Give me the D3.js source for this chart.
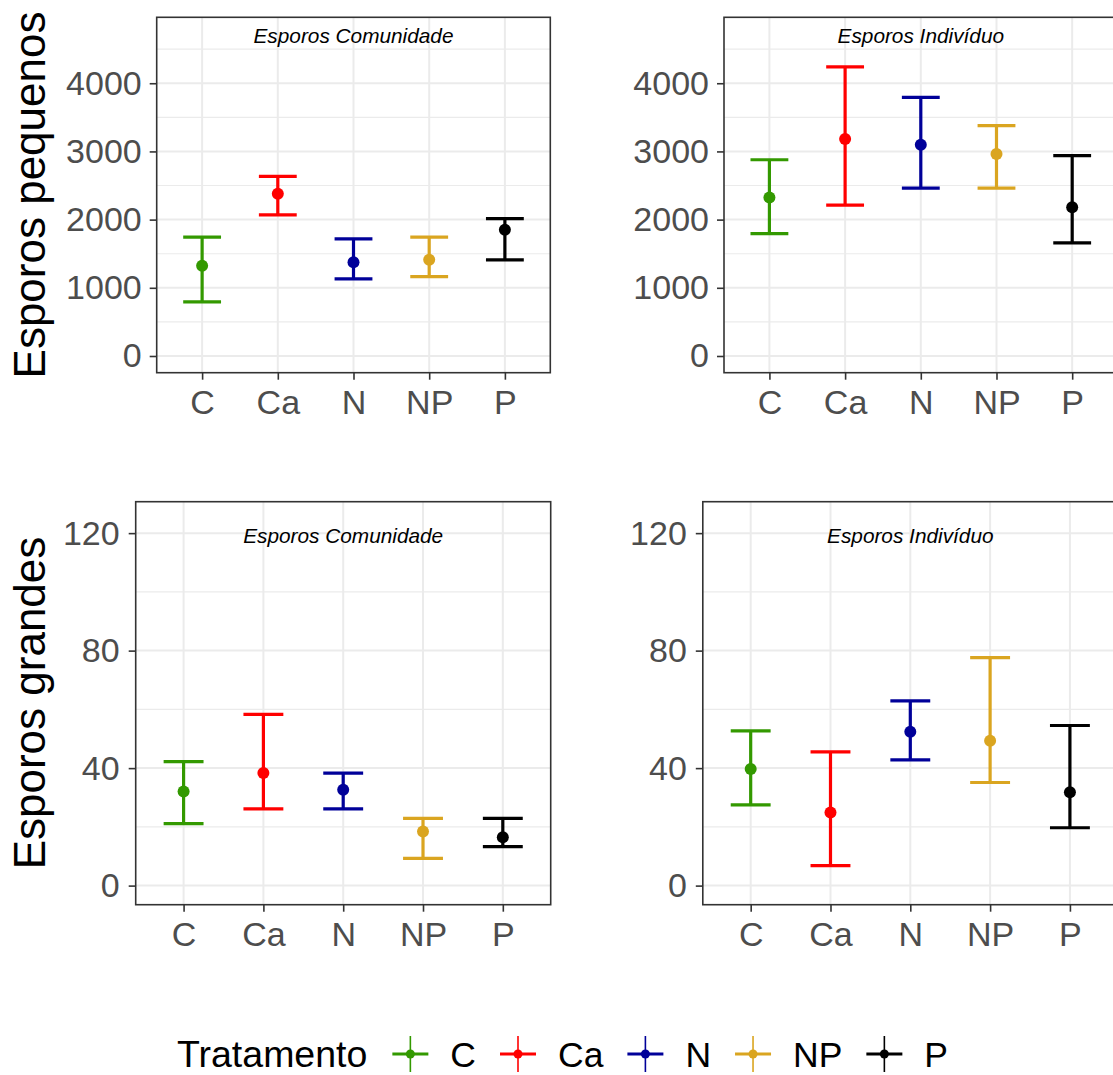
<!DOCTYPE html>
<html>
<head>
<meta charset="utf-8">
<script src="https://cdn.jsdelivr.net/npm/d3@7"></script>
<style>
  html, body { margin: 0; padding: 0; background: #fff; }
  svg { display: block; font-family: "Liberation Sans", Arial, Helvetica, sans-serif; }
</style>
</head>
<body>
<svg id="chart" width="1113" height="1075"></svg>
<script>
// Treatments and their colours
const treatments = ["C", "Ca", "N", "NP", "P"];
const treatmentColors = ["#339900", "#FF0000", "#000099", "#DAA520", "#000000"];

// Small spores, community level: mean and interval bounds
const smallCommunityMean  = [1322, 2379, 1376, 1410, 1850];
const smallCommunityLower = [793, 2070, 1131, 1165, 1410];
const smallCommunityUpper = [1743, 2633, 1718, 1743, 2016];

// Small spores, individual level
const smallIndividualMean  = [2325, 3182, 3098, 2962, 2183];
const smallIndividualLower = [1796, 2213, 2462, 2462, 1659];
const smallIndividualUpper = [2878, 4239, 3793, 3377, 2937];

// Large spores, community level
const largeCommunityMean  = [32.0, 38.3, 32.6, 18.4, 16.5];
const largeCommunityLower = [21.1, 26.1, 26.1, 9.3, 13.3];
const largeCommunityUpper = [42.2, 58.3, 38.3, 22.9, 22.9];

// Large spores, individual level
const largeIndividualMean  = [39.7, 24.9, 52.4, 49.3, 31.8];
const largeIndividualLower = [27.5, 6.8, 42.8, 35.1, 19.7];
const largeIndividualUpper = [52.7, 45.5, 62.9, 77.6, 54.5];

// Axis ticks
const smallTicks = [0, 1000, 2000, 3000, 4000];
const smallMinorTicks = [500, 1500, 2500, 3500, 4500];
const largeTicks = [0, 40, 80, 120];
const largeMinorTicks = [20, 60, 100];

const rowTitles = ["Esporos pequenos", "Esporos grandes"];
const panelLabels = ["Esporos Comunidade", "Esporos Indivíduo"];
const legendTitle = "Tratamento";

function rows(mean, lower, upper) {
  return treatments.map((t, i) => ({ t, mean: mean[i], lower: lower[i], upper: upper[i], color: treatmentColors[i] }));
}

const panels = [
  { data: rows(smallCommunityMean, smallCommunityLower, smallCommunityUpper), label: panelLabels[0],
    box: [156.7, 17.3, 550.3, 372.7], domain: [-245, 4967], ticks: smallTicks, minor: smallMinorTicks, labelAt: 4700, tickGap: 8 },
  { data: rows(smallIndividualMean, smallIndividualLower, smallIndividualUpper), label: panelLabels[1],
    box: [724, 17.3, 1117.6, 372.7], domain: [-245, 4967], ticks: smallTicks, minor: smallMinorTicks, labelAt: 4700, tickGap: 8 },
  { data: rows(largeCommunityMean, largeCommunityLower, largeCommunityUpper), label: panelLabels[0],
    box: [135.7, 501.7, 550.7, 904.7], domain: [-6.5, 130.7], ticks: largeTicks, minor: largeMinorTicks, labelAt: 119, tickGap: 9 },
  { data: rows(largeIndividualMean, largeIndividualLower, largeIndividualUpper), label: panelLabels[1],
    box: [702.8, 501.7, 1117.8, 904.7], domain: [-6.5, 130.7], ticks: largeTicks, minor: largeMinorTicks, labelAt: 119, tickGap: 9 }
];

const svg = d3.select("#chart");

panels.forEach(p => {
  const [x0, y0, x1, y1] = p.box;
  const x = d3.scalePoint().domain(treatments).range([x0, x1]).padding(0.6);
  const y = d3.scaleLinear().domain(p.domain).range([y1, y0]);
  const g = svg.append("g");

  // grid
  g.selectAll("line.minor").data(p.minor).join("line")
    .attr("x1", x0).attr("x2", x1).attr("y1", d => y(d)).attr("y2", d => y(d))
    .attr("stroke", "#EBEBEB").attr("stroke-width", 1.1);
  g.selectAll("line.majorY").data(p.ticks).join("line")
    .attr("x1", x0).attr("x2", x1).attr("y1", d => y(d)).attr("y2", d => y(d))
    .attr("stroke", "#EBEBEB").attr("stroke-width", 2);
  g.selectAll("line.majorX").data(treatments).join("line")
    .attr("x1", d => x(d)).attr("x2", d => x(d)).attr("y1", y0).attr("y2", y1)
    .attr("stroke", "#EBEBEB").attr("stroke-width", 2);

  // panel label
  g.append("text")
    .attr("x", (x0 + x1) / 2).attr("y", y(p.labelAt)).attr("dy", "0.35em")
    .attr("text-anchor", "middle").attr("font-style", "italic").attr("font-size", 20.8)
    .attr("fill", "#000").text(p.label);

  // error bars
  const half = x.step() * 0.25;
  const bars = g.selectAll("g.bar").data(p.data).join("g").attr("stroke", d => d.color).attr("fill", d => d.color);
  bars.append("line").attr("x1", d => x(d.t)).attr("x2", d => x(d.t))
    .attr("y1", d => y(d.lower)).attr("y2", d => y(d.upper)).attr("stroke-width", 3.2);
  bars.append("line").attr("x1", d => x(d.t) - half).attr("x2", d => x(d.t) + half)
    .attr("y1", d => y(d.upper)).attr("y2", d => y(d.upper)).attr("stroke-width", 3.2);
  bars.append("line").attr("x1", d => x(d.t) - half).attr("x2", d => x(d.t) + half)
    .attr("y1", d => y(d.lower)).attr("y2", d => y(d.lower)).attr("stroke-width", 3.2);
  bars.append("circle").attr("cx", d => x(d.t)).attr("cy", d => y(d.mean)).attr("r", 6).attr("stroke", "none");

  // border
  g.append("rect").attr("x", x0).attr("y", y0).attr("width", x1 - x0).attr("height", y1 - y0)
    .attr("fill", "none").attr("stroke", "#333333").attr("stroke-width", 1.6);

  // axes
  const ay = g.append("g").attr("transform", `translate(${x0},0)`)
    .call(d3.axisLeft(y).tickValues(p.ticks).tickSize(7).tickPadding(p.tickGap).tickFormat(d3.format("d")));
  const ax = g.append("g").attr("transform", `translate(0,${y1})`)
    .call(d3.axisBottom(x).tickSize(7).tickPadding(10));
  [ay, ax].forEach(a => {
    a.select(".domain").remove();
    a.selectAll(".tick line").attr("stroke", "#333333").attr("stroke-width", 1.6);
    a.selectAll(".tick text").attr("fill", "#4D4D4D").attr("font-size", 34)
      .attr("font-family", "'Liberation Sans', Arial, sans-serif");
  });
});

// row titles
[[195, 0], [703, 1]].forEach(([cy, i]) => {
  svg.append("text")
    .attr("transform", `translate(45,${cy}) rotate(-90)`)
    .attr("text-anchor", "middle").attr("font-size", 44).attr("fill", "#000")
    .text(rowTitles[i]);
});

// legend
const legend = svg.append("g");
const legendY = 1054;
const baseY = 1067;
const title = legend.append("text").attr("x", 177).attr("y", baseY)
  .attr("font-size", 37.5).attr("fill", "#000").text(legendTitle);
let cursor = 177 + title.node().getComputedTextLength() + 25;
treatments.forEach((t, i) => {
  const c = treatmentColors[i];
  const cx = cursor + 18;
  legend.append("line").attr("x1", cursor).attr("x2", cursor + 36).attr("y1", legendY).attr("y2", legendY)
    .attr("stroke", c).attr("stroke-width", 3.2);
  legend.append("line").attr("x1", cx).attr("x2", cx).attr("y1", legendY - 18).attr("y2", legendY + 18)
    .attr("stroke", c).attr("stroke-width", 1.6);
  legend.append("circle").attr("cx", cx).attr("cy", legendY).attr("r", 4.5).attr("fill", c);
  const lbl = legend.append("text").attr("x", cursor + 36 + 22).attr("y", baseY)
    .attr("font-size", 35.5).attr("fill", "#000").text(t);
  cursor = cursor + 36 + 22 + lbl.node().getComputedTextLength() + 24;
});
</script>
</body>
</html>
